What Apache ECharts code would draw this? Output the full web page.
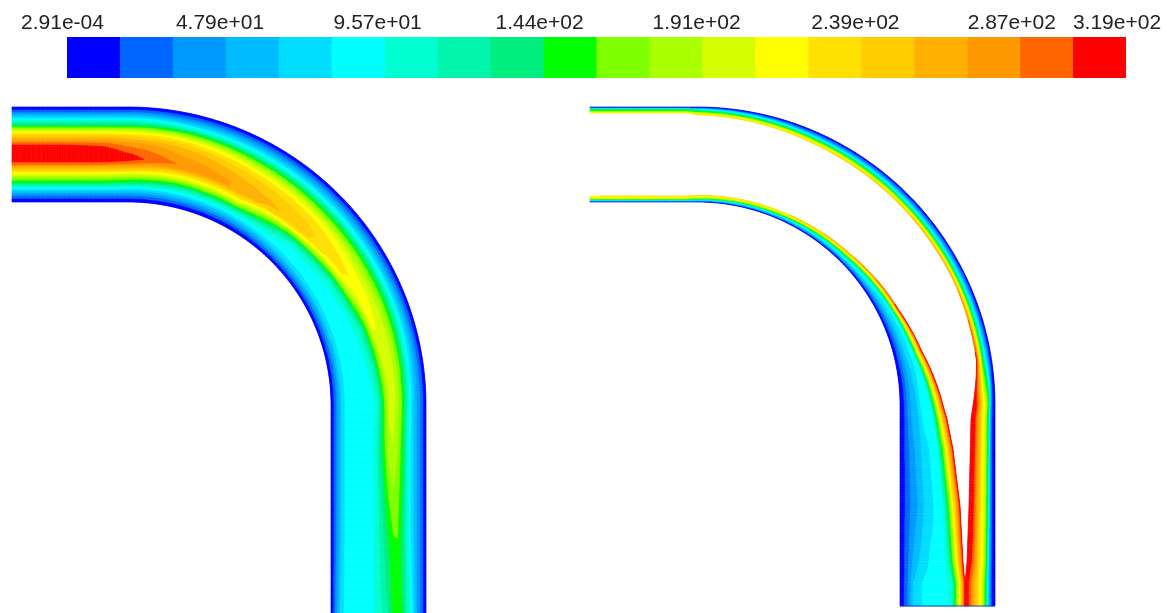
<!DOCTYPE html>
<html><head><meta charset="utf-8">
<style>html,body{margin:0;padding:0;background:#fff}#c{width:1176px;height:613px;filter:blur(0.45px)}</style>
<script src="https://cdn.jsdelivr.net/npm/echarts@6/dist/echarts.min.js"></script>
</head><body><div id="c"></div>
<script>
// ---- colour scale -------------------------------------------------------
const tickValues = [0.000291, 47.9, 95.7, 144, 191, 239, 287, 319];
const tickLabels = ['2.91e-04','4.79e+01','9.57e+01','1.44e+02','1.91e+02','2.39e+02','2.87e+02','3.19e+02'];
const labelShift = [9,12,14,11,9,10,16,18];
const levelColors = ['#0000ff','#0066ff','#0099ff','#00bbff','#00ddff','#00ffff','#00ffd0','#00f5aa','#00ee80','#00ff00',
  '#80ff00','#aaff00','#d5ff00','#ffff00','#ffe000','#ffcc00','#ffb000','#ff9900','#ff6600','#ff0000'];

// ---- stations along the pipe: -1..0 inlet, 0..1 bend, 1..2 outlet --------
// Field values are in colour-level units, wall (fraction 0) to free edge (fraction 1).
const leftStations = [-1,-0.5,-0.2,0,0.05,0.13,0.32,0.5,0.65,0.8,1,1.2,1.45,1.65,2];
const leftDepth = [95,95,95,95,95,95,95,95,95,95,95,95,95,95,95];
const leftField = [
 [0,1.6,4,6.5,9,12.5,15,17,19,20,20,20,18.5,16,13.5,11,9,6,3.5,1.6,0],
 [0,1.6,4,6.5,9,12.5,15,17,19,20,20,20,18.5,16,13.5,11,9,6,3.5,1.6,0],
 [0,1.6,4,6.5,9,12.5,15,17,18.7,19.6,20,20,18.5,16,13.5,11,9,6,3.5,1.6,0],
 [0,1.6,4,6.5,9,12.3,14.7,16.4,17.7,18.5,19.2,19.7,18.1,15.8,13.2,10.7,8.7,5.7,3.5,1.6,0],
 [0,1.6,4,6.5,9,12,14.5,16,17.2,18,18.5,18.9,17.7,15.4,13,10.5,8.5,5.5,3.5,1.6,0],
 [0,1.6,3.5,6,9,11.8,14,15.5,16.5,17,17.5,18,17,14.5,12.5,10,7.5,5.5,3.5,1.6,0],
 [0,1.6,3.5,5.5,8,10.5,12.5,14,15,15.7,16.2,16.7,17,15,13,10.5,7.5,5.5,3.5,1.6,0],
 [0,1.6,3.5,5.5,8,10,12,13.5,14.5,15,15.3,15.5,13.5,10,7.5,6,5.5,5.3,4,2,0],
 [0,1.6,3.5,5.5,8,10,11.5,12.8,13.5,14.1,14,12.5,9.2,7,6,5.5,5.3,5.3,4,2,0],
 [0,1.6,3.5,5.5,8,10,11.5,12.5,13,13.2,10.5,8,6.5,5.8,5.3,5.3,5.3,5.3,4,2,0],
 [0,1.6,3,4.5,7,9.8,11.5,12.6,12.3,9.5,7,5.8,5.3,5.3,5.3,5.3,5.3,5.3,4,2,0],
 [0,1.6,3,4.5,6.5,9.5,11,12,11.5,9.5,7.5,6,5.3,5.3,5.3,5.3,5.3,5.3,4,2,0],
 [0,1.6,3,4.5,6.5,8.8,10.5,10.8,10,8.5,7,6,5.3,5.3,5.3,5.3,5.3,5.3,4,2,0],
 [0,1.6,3,4.5,6.5,8.5,10,9.9,9,8,6.8,6,5.3,5.3,5.3,5.3,5.3,5.3,4,2,0],
 [0,1.6,3,5.3,7,9,9.6,9.4,8,7.2,6.5,6,5.4,5.3,5.3,5.3,5.3,5.3,4.5,2.5,0]
];

const outerStations = [-1,-0.1,0.27,0.5,0.72,0.9,1,1.07,1.5,1.78,1.89,2];
const outerDepth = [6,6,12,13,13,15,22,24,26,28,30,30];
const outerField = [
 [0,0.5,2,5,8,9,9.5,10,12,13,13.9],
 [0,0.5,2,5,8,9,9.5,10,12,13,14],
 [0,0.8,1.8,3,4.5,6,8,10,12,13.5,15],
 [0,0.8,1.8,3,4.5,6,8,10,12,14,16],
 [0,0.8,1.8,3,4.5,6,8,10,12.5,14.5,17],
 [0,0.7,2,3.5,5.3,7,9,11.5,14,17,19.5],
 [0,0.5,3,8.5,12,13.5,15,17,18.8,19.5,20],
 [0,0.5,3,8.5,12,13.5,15,17,18.8,19.5,20],
 [0,0.5,3,8.5,12,13.5,15,17,18.8,19.5,20],
 [0,0.5,3,8.5,12,13.5,15,17,18.8,19.5,20],
 [0,0.5,3,8,11.5,13.5,15,16.5,18,19.2,20],
 [0,0.5,3,8,11.5,13.5,15,16.5,18,19.2,20]
];

const innerStations = [-1,-0.1,0.27,0.5,0.72,0.85,1,1.07,1.22,1.5,1.78,1.89,2];
const innerDepth = [6,6,8,12,20,28,43,47,53,60,63,65,65];
const innerField = [
 [0,0.5,3,5.5,8,10,12,13,13.5,13.8,14],
 [0,0.5,3,5.5,8,10,12,13,13.5,13.8,14.5],
 [0,0.8,2.5,4,5.5,7,9,11,13,14,15],
 [0,1,2.5,4,5.3,6,8,10,13,15,17],
 [0,1,2,3,4,4.5,5.3,6.5,11,15,19.5],
 [0,1,2,3,4,4.5,5.3,6,11,15,19.5],
 [0,1,2.5,3.5,4,5.3,5.3,5.5,10,15,19.5],
 [0,1,2.5,3.5,4,5.3,5.3,5.5,10,15,19.5],
 [0,1.1,2.3,3.2,4,4.7,5.3,5.4,9.5,14.8,19.5],
 [0,1.2,2.2,3,4,4.5,5.3,5.4,9,14.5,19.5],
 [0,1.4,3,4,4.6,5.3,5.3,5.4,8,13.5,19.5],
 [0,1.5,4,4.8,5.3,5.3,5.3,5.4,6.5,12,19.5],
 [0,1.5,4,4.8,5.3,5.3,5.3,5.4,6.5,12,19.5]
];

// ---- pipe geometry (pixel-scaled axes) -----------------------------------
const leftPipe  = {x0:12,  cx:128, cy:405, ro:298, bottom:613};
const rightPipe = {x0:590, cx:697, cy:405, ro:298, bottom:606};
const pipeWidth = 95;

const films = [
 {pipe:leftPipe,  wall:'outer', st:leftStations,  depth:leftDepth,  field:leftField},
 {pipe:rightPipe, wall:'outer', st:outerStations, depth:outerDepth, field:outerField},
 {pipe:rightPipe, wall:'inner', st:innerStations, depth:innerDepth, field:innerField}
];

function bracket(arr, v){
  let i = 0; while (i < arr.length-2 && arr[i+1] <= v) i++;
  return [i, Math.max(0, Math.min(1, (v-arr[i])/(arr[i+1]-arr[i])))];
}
function sampleRow(row, t){
  const p = t*(row.length-1); const i = Math.min(row.length-2, Math.floor(p)); const f = p-i;
  return row[i]*(1-f)+row[i+1]*f;
}
function fieldAt(film, s, t){
  const [i,f] = bracket(film.st, s);
  return sampleRow(film.field[i],t)*(1-f)+sampleRow(film.field[i+1],t)*f;
}
function depthAt(film, s){
  const [i,f] = bracket(film.st, s);
  return film.depth[i]*(1-f)+film.depth[i+1]*f;
}
function place(pipe, s, d){ // d: distance from the outer wall
  if (s <= 0) return [pipe.cx + s*(pipe.cx-pipe.x0), pipe.cy-pipe.ro+d];
  if (s >= 1) return [pipe.cx+pipe.ro-d, pipe.cy+(s-1)*(pipe.bottom-pipe.cy)];
  const a = s*Math.PI/2, r = pipe.ro-d;
  return [pipe.cx+r*Math.sin(a), pipe.cy-r*Math.cos(a)];
}
function wallDist(film, d){ return film.wall==='outer' ? d : pipeWidth-d; }

const strips = [];
films.forEach((film, fi) => {
  const add = (a,b,n) => { for (let i=0;i<n;i++) strips.push([fi, a+(b-a)*i/n, a+(b-a)*(i+1)/n]); };
  add(-1,0,70); add(0,1,300); add(1,2,130);
});

function renderStrip(params, api){
  const film = films[api.value(0)], sA = api.value(1), sB = api.value(2), sM = (sA+sB)/2;
  const dep = depthAt(film, sM), n = Math.ceil(dep*4), kids = [];
  const lvl = t => Math.max(0, Math.min(19, Math.floor(fieldAt(film, sM, t))));
  let start = 0, cur = lvl(0.5/n);
  const flush = (t0,t1,l) => {
    const dA = depthAt(film,sA), dB = depthAt(film,sB);
    const pts = [place(film.pipe,sA,wallDist(film,t0*dA)), place(film.pipe,sB,wallDist(film,t0*dB)),
                 place(film.pipe,sB,wallDist(film,t1*dB)), place(film.pipe,sA,wallDist(film,t1*dA))].map(p=>api.coord(p));
    kids.push({type:'polygon', shape:{points:pts}, style:{fill:levelColors[l], stroke:levelColors[l], lineWidth:0.7}});
  };
  for (let k=1;k<n;k++){
    const l = lvl((k+0.5)/n);
    if (l!==cur){ flush(start,k/n,cur); start=k/n; cur=l; }
  }
  flush(start,1,cur);
  return {type:'group', children:kids};
}

const cells = levelColors.map((c,i)=>[i]);
const vMin = tickValues[0], vMax = tickValues[tickValues.length-1];
const labelRich = {};
labelShift.forEach((p,i)=>{ labelRich['t'+i] = {padding:[0,p,0,0], fontFamily:'Liberation Sans', fontSize:21, color:'#222'}; });

const chart = echarts.init(document.getElementById('c'), null, {renderer:'canvas'});
chart.setOption({
  animation:false, backgroundColor:'#fff',
  grid:[{left:0,top:0,width:1176,height:613},{left:67,top:37,width:1059,height:41}],
  xAxis:[
    {gridIndex:0,type:'value',min:0,max:1176,show:false},
    {gridIndex:1,type:'value',min:vMin,max:vMax,position:'top',
     axisLine:{show:false},axisTick:{show:false},splitLine:{show:false},
     axisLabel:{customValues:tickValues,margin:3,fontFamily:'Liberation Sans',fontSize:21,color:'#222',hideOverlap:false,rich:labelRich,
       formatter:(v)=>{const i=tickValues.indexOf(v); return '{t'+i+'|'+tickLabels[i]+'}';}}}
  ],
  yAxis:[
    {gridIndex:0,type:'value',min:0,max:613,inverse:true,show:false},
    {gridIndex:1,type:'value',min:0,max:1,show:false}
  ],
  series:[
    {type:'custom',xAxisIndex:0,yAxisIndex:0,data:strips,renderItem:renderStrip,silent:true,clip:true,progressive:0,animation:false},
    {type:'line',xAxisIndex:0,yAxisIndex:0,silent:true,symbol:'none',animation:false,z:3,
     data:[place(rightPipe,2,0),place(rightPipe,2,pipeWidth)],lineStyle:{color:'#1a3fd0',width:1}},
    {type:'custom',xAxisIndex:1,yAxisIndex:1,data:cells,silent:true,clip:true,animation:false,
     renderItem:(p,api)=>{
       const i=api.value(0), a=vMin+(vMax-vMin)*i/20, b=vMin+(vMax-vMin)*(i+1)/20;
       const p0=api.coord([a,1]), p1=api.coord([b,0]);
       return {type:'rect',shape:{x:p0[0],y:p0[1],width:p1[0]-p0[0]+0.5,height:p1[1]-p0[1]},style:{fill:levelColors[i]}};
     }}
  ]
});
</script></body></html>
